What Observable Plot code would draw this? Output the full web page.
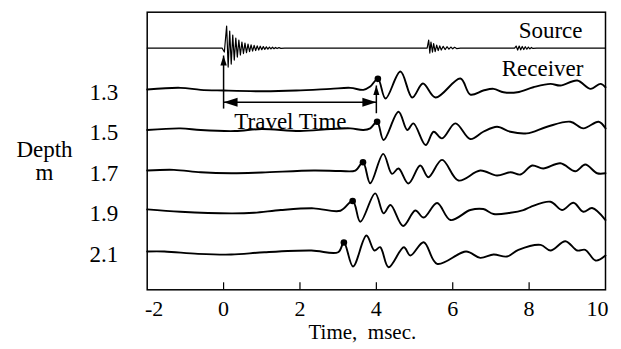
<!DOCTYPE html>
<html><head><meta charset="utf-8">
<script src="https://cdn.jsdelivr.net/npm/d3@7"></script>
<script src="https://cdn.jsdelivr.net/npm/@observablehq/plot@0.6"></script>
<style>body{margin:0;background:#fff}</style>
</head><body><div id="chart"></div>
<script>
// ---- data ----
const depthTicks = [1.3, 1.5, 1.7, 1.9, 2.1];
const timeTicks = [0, 2, 4, 6, 8];
const sourceLevel = 1.095;      // source trace drawn above the receivers
const travelTime = 4.0;         // ms, annotated arrow
const gain = 0.2 / 40.5;        // amplitude units -> depth offset

// Source trace (time ms, amplitude)
const tS = [-2, -0.04, 0.02, 0.08, 0.12, 0.16, 0.20, 0.24, 0.28, 0.32, 0.36, 0.40, 0.44, 0.48, 0.52, 0.56, 0.60, 0.64, 0.68, 0.72, 0.76, 0.80, 0.84, 0.88, 0.92, 0.96, 1.00, 1.04, 1.08, 1.12, 1.16, 1.20, 1.24, 1.28, 1.32, 1.36, 1.40, 1.45, 1.50, 1.60,
  5.33, 5.37, 5.40, 5.43, 5.47, 5.50, 5.54, 5.58, 5.62, 5.66, 5.70, 5.75, 5.80, 5.85, 5.90, 5.95, 6.00, 6.05, 6.10, 6.20,
  7.62, 7.66, 7.70, 7.74, 7.78, 7.82, 7.86, 7.90, 7.94, 7.98, 8.02, 8.06, 8.10, 8.20, 10];
const aS = [0, 0, -4, 22, -19, 17, -16, 13, -12, 10, -9, 8, -7, 6, -5.5, 5, -4.5, 4, -3.5, 3.2, -3, 2.7, -2.5, 2.2, -2, 1.8, -1.6, 1.4, -1.3, 1.2, -1.1, 1, -0.9, 0.8, -0.7, 0.6, -0.5, 0.4, -0.3, 0,
  0, 8, -5, 6, -4, 4.5, -3.5, 3, -2.5, 2.2, -2, 1.7, -1.5, 1.3, -1.1, 1, -0.8, 0.7, -0.5, 0,
  0, 2, -2, 2, -1.8, 1.6, -1.5, 1.3, -1.2, 1, -0.8, 0.6, -0.4, 0, 0];

// Receiver traces
const t13 = [-2, -1.13, -0.6, 0, 1.05, 1.9, 2.8, 3.32, 3.66, 3.84, 4.04, 4.24, 4.63, 4.94, 5.22, 5.55, 6.20, 6.46, 6.80, 7.07, 7.33, 7.69, 8.11, 8.56, 8.82, 9.26, 9.61, 9.87, 10];
const a13 = [0, 1.7, -0.3, -1, -1.7, -1, 0.7, 1.7, -0.3, 3, 10.7, -9, 18, -8, 6, -8, 11, -5, -1, 0.7, -2.7, -2.7, 2.3, 5.7, 4, 9, 0.7, 5.7, 2.3];

const t15 = [-2, -1.13, -0.6, 0.3, 1.0, 2.0, 2.8, 3.32, 3.66, 3.84, 4.02, 4.19, 4.58, 4.81, 4.97, 5.29, 5.50, 5.72, 6.07, 6.46, 6.80, 7.16, 7.51, 7.94, 8.47, 9.08, 9.42, 9.82, 10];
const a15 = [0, 1.7, 0, -1, 1, -1, 1, 1.7, 0, 1.7, 8.3, -10, 18.3, 0, 6.7, -15, -1.7, -8.3, 6.7, -9, -1.7, 3.3, -1.7, -3.3, 3.3, 8.3, 1.7, 8.3, 1.7];

const t17 = [-2, -1.3, -0.6, 0.2, 1.0, 2.36, 3.06, 3.45, 3.65, 3.84, 4.18, 4.41, 4.58, 4.84, 5.15, 5.36, 5.72, 6.15, 6.72, 7.16, 7.51, 7.77, 8.08, 8.37, 8.82, 9.21, 9.47, 9.78, 10];
const a17 = [0, 0.7, -1.7, -2.7, -2, 0, -0.5, 0, 8.3, -12.7, 16.7, -3.3, 2, -13, 5, -6.7, 10.7, -10, 0, -5, -1.7, -4, 5, 2, 7.3, -0.7, 6, -2.7, -2.7];

const t19 = [-2, -1.13, 0.2, 0.8, 1.5, 2.36, 3.06, 3.38, 3.58, 3.97, 4.19, 4.37, 4.70, 5.02, 5.24, 5.59, 5.94, 6.46, 6.80, 7.07, 7.51, 7.85, 8.03, 8.56, 8.86, 9.16, 9.42, 9.65, 10];
const a19 = [1.7, -0.7, -2.3, -1.7, 1, 2.7, 0.3, 10, -10.7, 17.7, -2.3, 6, -15, 0.5, -6.5, 8, -9, 1, 2, -3, -1.7, 1, 4, 9.3, 1, 8.3, -0.7, 3, -9];

const t21 = [-2, -1.55, -0.67, 0.2, 1.07, 2.3, 3.0, 3.15, 3.39, 3.74, 3.95, 4.10, 4.32, 4.72, 4.89, 5.24, 5.59, 6.35, 6.72, 7.07, 7.42, 7.72, 8.30, 8.56, 8.95, 9.26, 9.47, 9.74, 10];
const a21 = [0, 0, -2.3, -3, -0.7, 1, -0.7, 9, -15, 16, 1, 4.3, -15.7, 4.3, -4, 9.3, -12.3, 0, -6.3, -3, -5, 1.7, 6.7, 1, 10.3, 1, 1.7, -9, -4];

// first-arrival picks (ms)
const pickTimes = [4.04, 4.02, 3.65, 3.38, 3.15];

// ---- build tables ----
const receivers = [[t13, a13], [t15, a15], [t17, a17], [t19, a19], [t21, a21]];
const sourceRows = tS.map((t, i) => ({t, y: sourceLevel - aS[i] * gain}));
const recRows = receivers.flatMap(([ts, as], k) =>
  ts.map((t, i) => ({trace: depthTicks[k], t, y: depthTicks[k] - as[i] * gain})));
const picks = receivers.map(([ts, as], k) => {
  const i = ts.indexOf(pickTimes[k]);
  return {t: pickTimes[k], y: depthTicks[k] - as[i] * gain};
});

function arrowMarker(len, half) {
  return (color, context) => {
    const doc = (context && context.document) || document;
    const ns = "http://www.w3.org/2000/svg";
    const m = doc.createElementNS(ns, "marker");
    m.setAttribute("viewBox", `${-len} ${-half - 1} ${len + 1} ${2 * half + 2}`);
    m.setAttribute("markerWidth", len + 1);
    m.setAttribute("markerHeight", 2 * half + 2);
    m.setAttribute("markerUnits", "userSpaceOnUse");
    m.setAttribute("orient", "auto-start-reverse");
    m.setAttribute("refX", 0);
    m.setAttribute("refY", 0);
    const p = doc.createElementNS(ns, "path");
    p.setAttribute("d", `M0,0L${-len},${-half}L${-len},${half}Z`);
    p.setAttribute("fill", "black");
    p.setAttribute("stroke", "none");
    m.appendChild(p);
    return m;
  };
}
const bigHead = arrowMarker(14, 4.5);
const smallHead = arrowMarker(10, 3.2);
const fmt = d => String(d);

const arrowRow = 1.363;
const chart = Plot.plot({
  width: 621, height: 349,
  marginLeft: 146.7, marginRight: 16, marginTop: 11.7, marginBottom: 59.7,
  x: {domain: [-2, 10], label: null},
  y: {domain: [0.918, 2.289], reverse: true, label: null},
  style: {fontFamily: "'Liberation Serif', 'Times New Roman', serif", fontSize: "23px", background: "white", color: "black"},
  marks: [
    Plot.line(sourceRows, {x: "t", y: "y", stroke: "black", strokeWidth: 1.2}),
    Plot.line(recRows, {x: "t", y: "y", z: "trace", stroke: "black", strokeWidth: 1.9, curve: "catmull-rom"}),
    Plot.dot(picks, {x: "t", y: "y", r: 3.3, fill: "black"}),
    Plot.link([{x1: 0, x2: travelTime, y: arrowRow}], {x1: "x1", x2: "x2", y1: "y", y2: "y", stroke: "black", strokeWidth: 1.5, markerStart: bigHead, markerEnd: bigHead}),
    Plot.link([{x: 0, y1: 1.394, y2: 1.132}, {x: travelTime, y1: 1.417, y2: 1.280}], {x1: "x", x2: "x", y1: "y1", y2: "y2", stroke: "black", strokeWidth: 1.5, markerEnd: smallHead}),
    Plot.text(["Travel Time"], {x: 1.75, y: 1.46, text: d => d, lineAnchor: "middle"}),
    Plot.text(["Source"], {frameAnchor: "top-right", text: d => d, textAnchor: "end", lineAnchor: "middle", dx: -23, dy: 18.6}),
    Plot.text(["Receiver"], {frameAnchor: "top-right", text: d => d, textAnchor: "end", lineAnchor: "middle", dx: -22, dy: 56.3}),
    Plot.text(["Depth\nm"], {frameAnchor: "left", text: d => d, textAnchor: "middle", lineAnchor: "middle", dx: -102.7, dy: 10, lineHeight: 1.02}),
    Plot.text(["Time,\u00a0 msec."], {frameAnchor: "bottom", text: d => d, lineAnchor: "middle", fontSize: 21, dx: -14, dy: 42}),
    Plot.frame({stroke: "black", strokeWidth: 1.5}),
    Plot.tickX(timeTicks, {stroke: "black", strokeWidth: 1.2, insetTop: 270.6}),
    Plot.axisX(timeTicks, {tickSize: 0, tickPadding: 11, fontSize: 22, tickFormat: fmt, label: null}),
    Plot.axisX([-2], {tickSize: 0, tickPadding: 11, fontSize: 22, tickFormat: fmt, dx: 7, label: null}),
    Plot.axisX([10], {tickSize: 0, tickPadding: 11, fontSize: 22, tickFormat: fmt, dx: -8, label: null}),
    Plot.axisY(depthTicks, {tickSize: 0, tickPadding: 29, dy: 3, tickFormat: fmt, label: null})
  ]
});
document.getElementById("chart").appendChild(chart);
</script>
</body></html>
